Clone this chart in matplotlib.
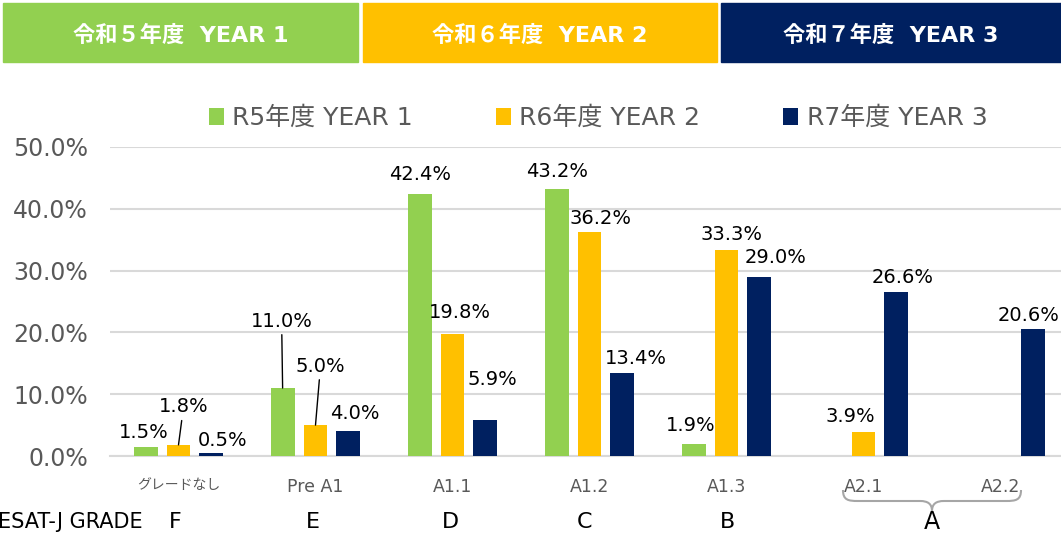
import matplotlib.pyplot as plt
import numpy as np
from matplotlib.patches import Rectangle, PathPatch
from matplotlib.path import Path

plt.rcParams['font.family'] = ['DejaVu Sans', 'Noto Sans CJK JP']

# data
levels = ['グレードなし', 'Pre A1', 'A1.1', 'A1.2', 'A1.3', 'A2.1', 'A2.2']
grades = ['F', 'E', 'D', 'C', 'B']
series = ['R5年度 YEAR 1', 'R6年度 YEAR 2', 'R7年度 YEAR 3']
headers = ['令和５年度  YEAR 1', '令和６年度  YEAR 2', '令和７年度  YEAR 3']
year1 = [1.5, 11.0, 42.4, 43.2, 1.9, 0, 0]
year2 = [1.8, 5.0, 19.8, 36.2, 33.3, 3.9, 0]
year3 = [0.5, 4.0, 5.9, 13.4, 29.0, 26.6, 20.6]

colors = ['#92D050', '#FFC000', '#002060']

# label offsets in pixels (dx, dy, leader line)
offsets = [
    [(-2, 14, 0), (-1, 67, 1), (0, 19, 0), (0, 18, 0), (-3, 19, 0), None, None],
    [(5, 38, 1), (5, 59, 1), (7, 21, 0), (11, 14, 0), (5, 16, 0), (-13, 15, 0), None],
    [(11, 12, 0), (6, 18, 0), (7, 40, 0), (13, 15, 0), (16, 19, 0), (6, 14, 0), (-5, 13, 0)],
]

W, H = 1061, 534
def fx(x):
    return x / W
def fy(y):
    return 1 - y / H

fig = plt.figure(figsize=(W / 100, H / 100), dpi=100)

# header boxes
hx = [(3, 358), (363, 717), (721, 1061)]
for (x0, x1), c, t in zip(hx, colors, headers):
    fig.patches.append(Rectangle((fx(x0), fy(62)), fx(x1 - x0), 59 / H,
                                 transform=fig.transFigure, color=c, zorder=0))
    fig.text(fx((x0 + x1) / 2), fy(35), t, color='white', fontsize=16,
             fontweight='bold', ha='center', va='center')

ax = fig.add_axes([fx(110), fy(456), 959 / W, (456 - 147) / H])
x = np.arange(len(levels))
w = 0.175
step = 0.24
data = [year1, year2, year3]
for i, (vals, c, lab) in enumerate(zip(data, colors, series)):
    pos = x + (i - 1) * step
    ax.bar(pos, vals, w, color=c, label=lab, zorder=3)
    for j, v in enumerate(vals):
        off = offsets[i][j]
        if off is None:
            continue
        dx, dy, lead = off
        kw = {}
        if lead:
            kw['arrowprops'] = dict(arrowstyle='-', color='black', lw=1,
                                    shrinkA=1, shrinkB=0)
        ax.annotate(f'{v:.1f}%', xy=(pos[j], v), xytext=(dx, dy),
                    textcoords='offset pixels', ha='center', va='center',
                    fontsize=14, color='black', **kw)

ax.set_xlim(-0.5, 6.5)
ax.set_ylim(0, 50)
ax.set_yticks(np.arange(0, 51, 10))
ax.set_yticklabels([f'{t:.1f}%' for t in range(0, 51, 10)])
ax.set_xticks(x)
ax.set_xticklabels(levels)
ax.tick_params(axis='y', length=0, pad=16, labelsize=17, labelcolor='#595959')
ax.tick_params(axis='x', length=0, pad=16, labelsize=12.5, labelcolor='#595959')
ax.get_xticklabels()[0].set_fontsize(10)
ax.grid(axis='y', color='#D9D9D9', lw=1.5, zorder=0)
for s in ['top', 'right', 'left']:
    ax.spines[s].set_visible(False)
ax.spines['bottom'].set_color('#D9D9D9')
ax.spines['bottom'].set_linewidth(1.5)

leg = ax.legend(loc='center', bbox_to_anchor=(fx(598), fy(118)),
                bbox_transform=fig.transFigure, ncol=3, frameon=False,
                fontsize=18, handlelength=0.6, handleheight=0.7,
                handletextpad=0.35, columnspacing=3.3)
for t in leg.get_texts():
    t.set_color('#595959')

# grade row
fig.text(fx(143), fy(522), 'ESAT-J GRADE', fontsize=15, ha='right', va='center')
for g, gx in zip(grades, [175, 313, 450, 585, 727]):
    fig.text(fx(gx), fy(522), g, fontsize=16, ha='center', va='center')
fig.text(fx(932), fy(522), 'A', fontsize=17, ha='center', va='center')

# brace under A2.1 / A2.2
def brace(pts):
    verts = [(fx(a), fy(b)) for a, b in pts]
    codes = [Path.MOVETO, Path.CURVE4, Path.CURVE4, Path.CURVE4,
             Path.LINETO, Path.CURVE4, Path.CURVE4, Path.CURVE4]
    fig.patches.append(PathPatch(Path(verts, codes), fill=False,
                                 edgecolor='#A6A6A6', lw=1.5,
                                 transform=fig.transFigure))

brace([(843, 490), (843, 500), (848, 501), (858, 501), (920, 501),
       (928, 501), (932, 504), (932, 511)])
brace([(1021, 490), (1021, 500), (1016, 501), (1006, 501), (944, 501),
       (936, 501), (932, 504), (932, 511)])

fig.savefig('out.png', dpi=100)
